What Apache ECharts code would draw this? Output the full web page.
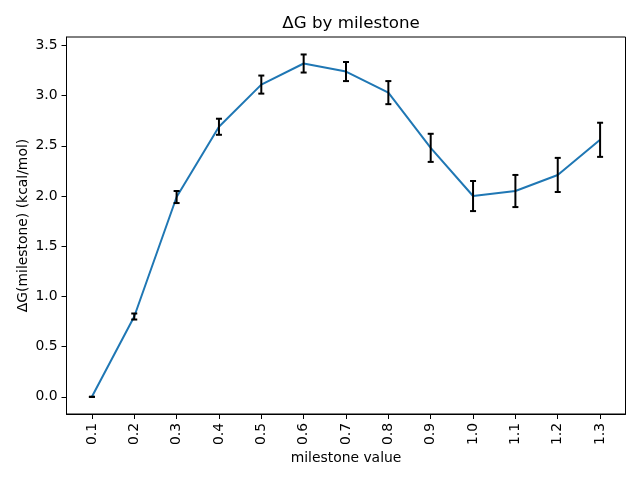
<!DOCTYPE html>
<html>
<head>
<meta charset="utf-8">
<script src="https://cdn.jsdelivr.net/npm/echarts@6/dist/echarts.min.js"></script>
<style>
html, body { margin: 0; padding: 0; background: #fff; }
#main { width: 640px; height: 480px; }
</style>
</head>
<body>
<div id="main"></div>
<script>
// milestone values on the x axis
var milestones = ['0.1', '0.2', '0.3', '0.4', '0.5', '0.6', '0.7', '0.8', '0.9', '1.0', '1.1', '1.2', '1.3'];
// free energy per milestone and its error
var deltaG = [0.00, 0.80, 1.99, 2.69, 3.11, 3.32, 3.24, 3.03, 2.48, 2.00, 2.05, 2.21, 2.56];
var deltaGErr = [0.00, 0.03, 0.06, 0.08, 0.09, 0.09, 0.095, 0.115, 0.14, 0.15, 0.16, 0.17, 0.17];
var yTicks = [0, 0.5, 1.0, 1.5, 2.0, 2.5, 3.0, 3.5];

var font = 'DejaVu Sans';
var xIdx = milestones.map(function (m, i) { return i; });

var lineData = deltaG.map(function (v, i) { return [i, v]; });
var errData = deltaG.map(function (v, i) { return [i, v - deltaGErr[i], v + deltaGErr[i]]; });

var myChart = echarts.init(document.getElementById('main'));
var option = {
	animation: false,
	backgroundColor: '#fff',
	title: {
		text: 'ΔG by milestone',
		left: 346,
		top: 10,
		textAlign: 'center',
		textStyle: { fontFamily: font, fontSize: 16.7, fontWeight: 'normal', color: '#000' }
	},
	grid: {
		left: 66.5, top: 37, width: 559, height: 377,
		show: true, borderColor: '#000', borderWidth: 1, backgroundColor: 'transparent'
	},
	xAxis: {
		type: 'value',
		min: -0.6,
		max: 12.6,
		name: 'milestone value',
		nameLocation: 'middle',
		nameGap: 37,
		nameMoveOverlap: false,
		nameTextStyle: { fontFamily: font, fontSize: 13.9, color: '#000' },
		axisLine: { onZero: false, lineStyle: { color: '#000', width: 1 } },
		axisTick: { show: true, customValues: xIdx, length: 5, lineStyle: { color: '#000' } },
		axisLabel: {
			customValues: xIdx,
			rotate: 90,
			margin: 9,
			fontFamily: font, fontSize: 13.9, color: '#000',
			formatter: function (v) { return milestones[Math.round(v)]; }
		},
		splitLine: { show: false }
	},
	yAxis: {
		type: 'value',
		min: -0.171,
		max: 3.584,
		name: 'ΔG(milestone) (kcal/mol)',
		nameLocation: 'middle',
		nameGap: 36,
		nameMoveOverlap: false,
		nameTextStyle: { fontFamily: font, fontSize: 13.9, color: '#000' },
		axisLine: { show: true, onZero: false, lineStyle: { color: '#000', width: 1 } },
		axisTick: { show: true, customValues: yTicks, length: 5, lineStyle: { color: '#000' } },
		axisLabel: {
			customValues: yTicks,
			margin: 9,
			fontFamily: font, fontSize: 13.9, color: '#000',
			formatter: function (v) { return v.toFixed(1); }
		},
		splitLine: { show: false }
	},
	series: [
		{
			type: 'line',
			data: lineData,
			symbol: 'none',
			lineStyle: { color: '#1f77b4', width: 2 },
			z: 2
		},
		{
			type: 'custom',
			data: errData,
			encode: { x: 0, y: [1, 2] },
			z: 3,
			renderItem: function (params, api) {
				var x = api.value(0);
				var lo = api.coord([x, api.value(1)]);
				var hi = api.coord([x, api.value(2)]);
				var w = 3;
				var st = { stroke: '#000', lineWidth: 2 };
				return {
					type: 'group',
					children: [
						{ type: 'line', shape: { x1: lo[0], y1: lo[1], x2: hi[0], y2: hi[1] }, style: st },
						{ type: 'line', shape: { x1: lo[0] - w, y1: lo[1], x2: lo[0] + w, y2: lo[1] }, style: st },
						{ type: 'line', shape: { x1: hi[0] - w, y1: hi[1], x2: hi[0] + w, y2: hi[1] }, style: st }
					]
				};
			}
		}
	]
};
myChart.setOption(option);
</script>
</body>
</html>
